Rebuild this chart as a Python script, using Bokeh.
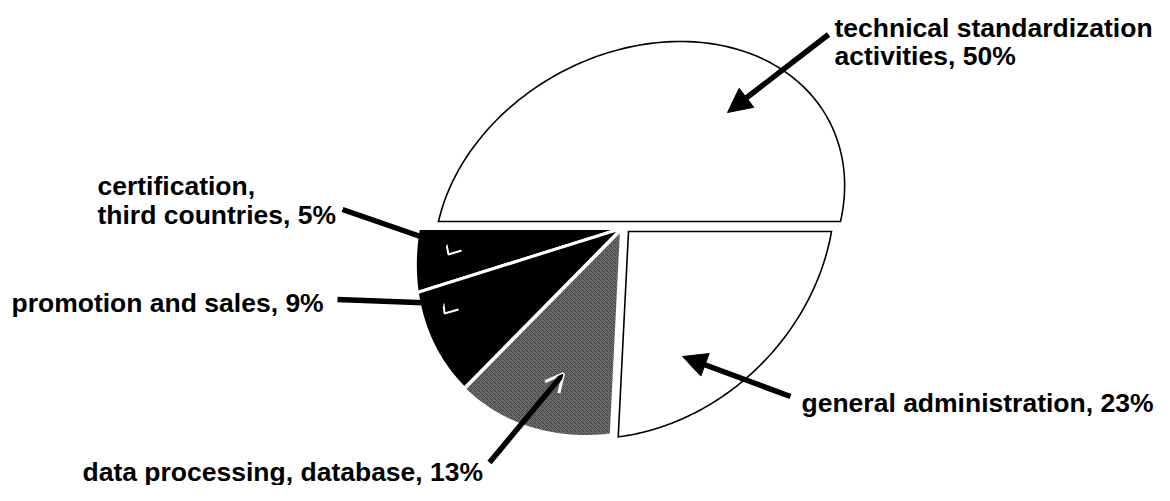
import numpy as np
from bokeh.plotting import figure
from bokeh.models import Range1d, Arrow, NormalHead, OpenHead, ColumnDataSource
from bokeh.core.properties import value
from bokeh.embed import file_html
from bokeh.resources import INLINE

# ---------------- data ----------------
categories = [
    "technical standardization activities",
    "certification, third countries",
    "promotion and sales",
    "data processing, database",
    "general administration",
]
shares = [50, 5, 9, 13, 23]
label_prefix = [
    ["technical standardization", "activities, "],
    ["certification,", "third countries, "],
    ["promotion and sales, "],
    ["data processing, database, "],
    ["general administration, "],
]

# ---------------- styles / layout ----------------
fills = ["white", "black", "black", "#6e6e6e", "white"]
strokes = ["black", "white", "white", "white", "black"]
stroke_w = [1.6, 3.0, 3.0, 3.0, 1.6]
hatch = [None, None, None, "x", None]

# ellipse geometry per slice (pixel-like data coordinates): cx, cy, rx, ry, skew
top_ell = (639, 221, 201, 180, 41)
bot_ell = (621, 228, 203, 207, 36)
ellipses = [top_ell, bot_ell, bot_ell, bot_ell, bot_ell]
offsets = [(0, 0), (0, 0), (0, 0), (0, 1), (7, 3)]

label_pos = [
    [(834, 27), (834, 55)],
    [(97, 185), (97, 214)],
    [(11, 302)],
    [(82, 471)],
    [(801, 402)],
]
arrows = [
    ((828, 34), (727, 112), "filled"),
    ((342, 209), (446, 245), None),
    ((337, 299), (443, 303), None),
    ((489, 462), (563, 373), "open"),
    ((790, 396), (682, 356), "filled"),
]

p = figure(width=1154, height=485, output_backend="svg", toolbar_location=None,
           x_range=Range1d(0, 1154), y_range=Range1d(485, 0), min_border=0)
p.axis.visible = False
p.grid.visible = False
p.outline_line_color = None
p.background_fill_color = "white"
p.border_fill_color = "white"

total = float(sum(shares))
cum = 0.0
for i, v in enumerate(shares):
    a0 = 2 * np.pi * cum / total
    a1 = 2 * np.pi * (cum + v) / total
    cum += v
    cx, cy, rx, ry, k = ellipses[i]
    ox, oy = offsets[i]
    th = np.linspace(a0, a1, 120)
    xs = cx + ox + rx * np.cos(th) + k * np.sin(th)
    ys = cy + oy - ry * np.sin(th)
    xs = np.concatenate([[cx + ox], xs, [cx + ox]])
    ys = np.concatenate([[cy + oy], ys, [cy + oy]])
    kw = {}
    if hatch[i]:
        kw = dict(hatch_pattern=hatch[i], hatch_color="#3a3a3a", hatch_scale=4, hatch_weight=0.8)
    p.patch(xs, ys, fill_color=fills[i], line_color=strokes[i], line_width=stroke_w[i],
            line_join="miter", **kw)

# arrows
for (s, e, head) in arrows:
    if head == "filled":
        h = NormalHead(size=24, fill_color="black", line_color="black")
    elif head == "open":
        h = OpenHead(size=18, line_color="white", line_width=3)
    else:
        h = None
    a = Arrow(x_start=s[0], y_start=s[1], x_end=e[0], y_end=e[1], end=h,
              line_color="black", line_width=5.5)
    p.add_layout(a)

# little white hook marks inside the black slices (arrow tips)
p.multi_line(xs=[[446, 448, 461], [443, 444, 458]], ys=[[244, 254, 250], [303, 313, 309]],
             line_color="white", line_width=2)

# labels
tx, ty, tt = [], [], []
for i, lines in enumerate(label_prefix):
    for j, line in enumerate(lines):
        txt = line + (f"{shares[i]}%" if j == len(lines) - 1 else "")
        tx.append(label_pos[i][j][0])
        ty.append(label_pos[i][j][1])
        tt.append(txt)
src = ColumnDataSource(dict(x=tx, y=ty, t=tt))
p.text(x="x", y="y", text="t", source=src, text_font=value("Liberation Sans"),
       text_font_style="bold", text_font_size="26.5px", text_baseline="alphabetic",
       text_align="left", text_color="black")

open("out.html", "w").write(file_html(p, INLINE))
